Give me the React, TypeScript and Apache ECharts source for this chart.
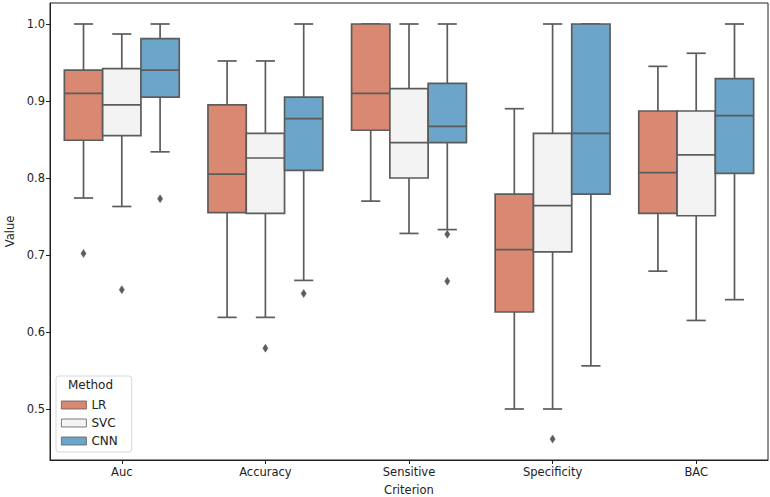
import React, { useEffect, useRef } from "react";
import * as echarts from "echarts";

const categories = ["Auc", "Accuracy", "Sensitive", "Specificity", "BAC"];
const methods = ["LR", "SVC", "CNN"];
const methodColors = ["#d98871", "#f3f3f3", "#6ba5ca"];
const yTicks = [0.5, 0.6, 0.7, 0.8, 0.9, 1.0];

// [lower whisker, Q1, median, Q3, upper whisker] per category
const lrBoxes = [
  [0.774, 0.849, 0.910, 0.940, 1.0],
  [0.619, 0.755, 0.805, 0.895, 0.952],
  [0.770, 0.862, 0.910, 1.0, 1.0],
  [0.500, 0.626, 0.707, 0.779, 0.890],
  [0.679, 0.754, 0.807, 0.887, 0.945],
];
const svcBoxes = [
  [0.763, 0.855, 0.895, 0.942, 0.987],
  [0.619, 0.754, 0.826, 0.858, 0.952],
  [0.728, 0.800, 0.846, 0.916, 1.0],
  [0.500, 0.704, 0.764, 0.858, 1.0],
  [0.615, 0.751, 0.830, 0.887, 0.962],
];
const cnnBoxes = [
  [0.834, 0.905, 0.940, 0.981, 1.0],
  [0.667, 0.810, 0.877, 0.905, 1.0],
  [0.733, 0.846, 0.867, 0.923, 1.0],
  [0.556, 0.779, 0.858, 1.0, 1.0],
  [0.642, 0.806, 0.881, 0.929, 1.0],
];
// outliers: [category index, value]
const lrOutliers = [[0, 0.702]];
const svcOutliers = [[0, 0.655], [1, 0.579], [3, 0.461]];
const cnnOutliers = [[0, 0.773], [1, 0.650], [2, 0.727], [2, 0.666]];

const allBoxes = [lrBoxes, svcBoxes, cnnBoxes];
const allOutliers = [lrOutliers, svcOutliers, cnnOutliers];

const EDGE = "#5c5c5c";
const FONT = "DejaVu Sans";

export default function App() {
  const ref = useRef<HTMLDivElement>(null);
  useEffect(() => {
    if (!ref.current) return;
    const chart = echarts.init(ref.current, undefined, { renderer: "svg" });

    const boxSeries = methods.map((m, hue) => ({
      type: "custom",
      name: m,
      itemStyle: { color: methodColors[hue], borderColor: EDGE, borderWidth: 1 },
      encode: { x: 0, y: [1, 2, 3, 4, 5] },
      data: allBoxes[hue].map((b, i) => [i, ...b]),
      renderItem: (params: any, api: any) => {
        const cat = api.value(0);
        const band = api.size([1, 0])[0];
        const w = (band * 0.8) / 3;
        const xc = api.coord([cat, 0])[0] + (hue - 1) * w;
        const y = [1, 2, 3, 4, 5].map((k) => api.coord([cat, api.value(k)])[1]);
        const lw = 1.7;
        const line = (x1: number, y1: number, x2: number, y2: number) => ({
          type: "line",
          shape: { x1, y1, x2, y2 },
          style: { stroke: EDGE, lineWidth: lw },
        });
        return {
          type: "group",
          children: [
            line(xc, y[0], xc, y[1]),
            line(xc, y[3], xc, y[4]),
            line(xc - w / 4, y[0], xc + w / 4, y[0]),
            line(xc - w / 4, y[4], xc + w / 4, y[4]),
            {
              type: "rect",
              shape: { x: xc - w / 2, y: y[3], width: w, height: y[1] - y[3] },
              style: { fill: methodColors[hue], stroke: EDGE, lineWidth: lw },
            },
            line(xc - w / 2, y[2], xc + w / 2, y[2]),
          ],
        };
      },
      z: 2,
    }));

    const outlierSeries = methods.map((m, hue) => ({
      type: "custom",
      name: m + " outliers",
      encode: { x: 0, y: 1 },
      data: allOutliers[hue],
      renderItem: (params: any, api: any) => {
        const cat = api.value(0);
        const band = api.size([1, 0])[0];
        const w = (band * 0.8) / 3;
        const pt = api.coord([cat, api.value(1)]);
        const xc = pt[0] + (hue - 1) * w;
        const yc = pt[1];
        const hw = 2.6;
        const hh = 4;
        return {
          type: "polygon",
          shape: {
            points: [
              [xc, yc - hh],
              [xc + hw, yc],
              [xc, yc + hh],
              [xc - hw, yc],
            ],
          },
          style: { fill: EDGE, stroke: EDGE, lineWidth: 0.5 },
        };
      },
      z: 3,
    }));

    chart.setOption({
      animation: false,
      textStyle: { fontFamily: FONT },
      grid: {
        left: 50,
        right: 2,
        top: 3,
        bottom: 37,
        outerBoundsMode: "none",
        containLabel: false,
        show: true,
        borderColor: "#222",
        borderWidth: 1,
        backgroundColor: "transparent",
      },
      xAxis: {
        type: "category",
        data: categories,
        axisLine: { show: true, lineStyle: { color: "#222", width: 1 } },
        axisTick: { show: true, alignWithLabel: true, length: 4, lineStyle: { color: "#222" } },
        axisLabel: { color: "#222", fontSize: 11.5, fontFamily: FONT, margin: 6 },
        splitLine: { show: false },
        name: "Criterion",
        nameLocation: "middle",
        nameGap: 24,
        nameTextStyle: { color: "#222", fontSize: 11.5, fontFamily: FONT },
      },
      yAxis: {
        type: "value",
        min: 0.43377,
        max: 1.02727,
        axisLine: { show: true, lineStyle: { color: "#222", width: 1 } },
        axisTick: { show: true, length: 4, customValues: yTicks, lineStyle: { color: "#222" } },
        axisLabel: {
          color: "#222",
          fontSize: 11.5,
          fontFamily: FONT,
          margin: 5,
          customValues: yTicks,
          formatter: (v: number) => v.toFixed(1),
        },
        splitLine: { show: false },
        name: "Value",
        nameLocation: "middle",
        nameGap: 34,
        nameTextStyle: { color: "#222", fontSize: 11.5, fontFamily: FONT },
      },
      legend: {
        orient: "vertical",
        left: 56,
        top: 376,
        padding: [23, 14, 5, 5],
        itemWidth: 25,
        itemHeight: 8,
        itemGap: 6,
        icon: "rect",
        backgroundColor: "rgba(255,255,255,0.85)",
        borderColor: "#d8d8d8",
        borderWidth: 1,
        borderRadius: 3,
        textStyle: { color: "#222", fontSize: 12, fontFamily: FONT },
        data: methods.map((m, i) => ({
          name: m,
          icon: "rect",
          itemStyle: { color: methodColors[i], borderColor: EDGE, borderWidth: 0.8 },
        })),
        selectedMode: false,
      },
      graphic: [
        {
          type: "text",
          left: 68,
          top: 379,
          z: 100,
          style: {
            text: "Method",
            fill: "#222",
            font: `12px '${FONT}'`,
          },
        },
      ],
      series: [...boxSeries, ...outlierSeries],
    });

    return () => chart.dispose();
  }, []);

  return <div ref={ref} style={{ width: 770, height: 497, position: "absolute", left: 0, top: 0 }} />;
}
